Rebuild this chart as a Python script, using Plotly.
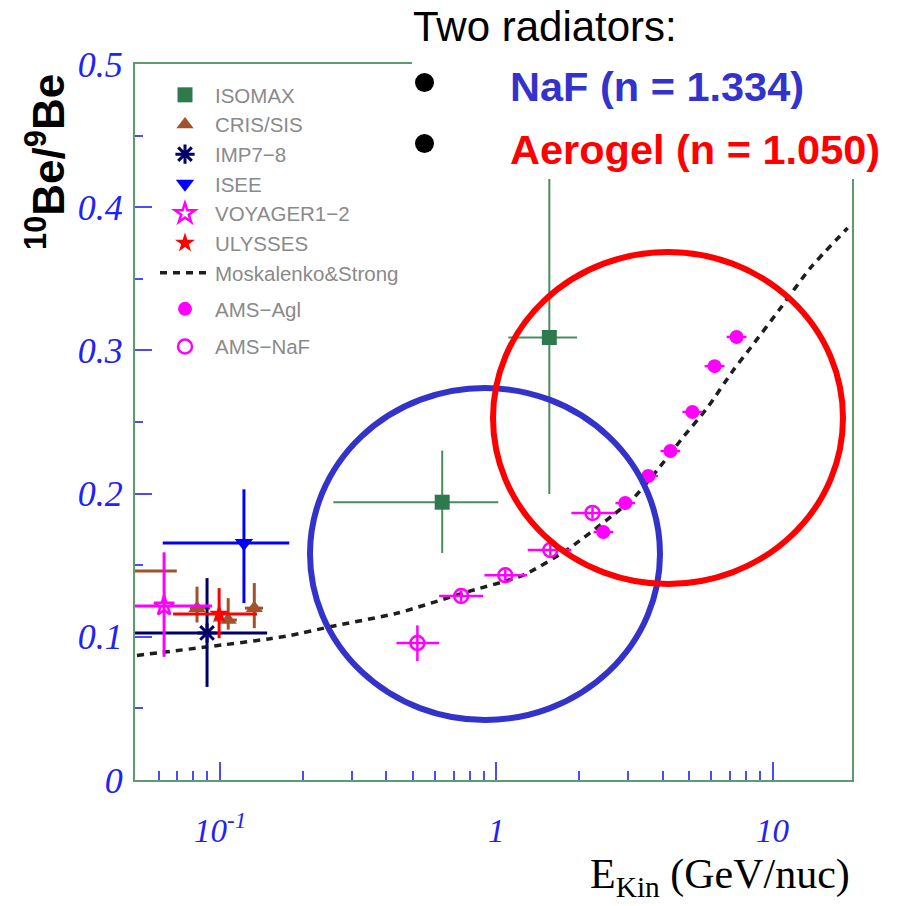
import math
import plotly.graph_objects as go

# ---- measured 10Be/9Be ratios (x = kinetic energy per nucleon, GeV/nuc) ----
isomax_x = [0.637, 1.556]
isomax_y = [0.194, 0.309]
isomax_xlo = [0.257, 1.105]
isomax_xhi = [1.017, 1.96]
isomax_ylo = [0.1585, 0.1997]
isomax_yhi = [0.230, 0.43]

cris_x = [0.045, 0.0825, 0.107, 0.133]
cris_y = [0.146, 0.120, 0.1117, 0.120]
cris_xlo = [0.030, 0.0778, 0.096, 0.123]
cris_xhi = [0.0697, 0.092, 0.115, 0.143]
cris_ylo = [0.140, 0.110, 0.105, 0.106]
cris_yhi = [0.152, 0.135, 0.127, 0.1375]

imp_x = [0.0897]
imp_y = [0.1027]
imp_xlo = [0.040]
imp_xhi = [0.148]
imp_ylo = [0.065]
imp_yhi = [0.141]

isee_x = [0.122]
isee_y = [0.1655]
isee_xlo = [0.062]
isee_xhi = [0.178]
isee_ylo = [0.1236]
isee_yhi = [0.203]

voyager_x = [0.0627]
voyager_y = [0.1215]
voyager_xlo = [0.040]
voyager_xhi = [0.0935]
voyager_ylo = [0.086]
voyager_yhi = [0.159]

ulysses_x = [0.0992]
ulysses_y = [0.116]
ulysses_xlo = [0.0676]
ulysses_xhi = [0.136]
ulysses_ylo = [0.099]
ulysses_yhi = [0.134]

agl_x = [2.44, 2.93, 3.55, 4.27, 5.13, 6.17, 7.41]
agl_y = [0.1732, 0.1934, 0.2123, 0.2297, 0.257, 0.289, 0.3094]
agl_xlo = [2.25, 2.70, 3.27, 3.93, 4.72, 5.68, 6.82]
agl_xhi = [2.65, 3.18, 3.85, 4.63, 5.57, 6.70, 8.05]
agl_ylo = [0.169, 0.189, 0.208, 0.2257, 0.253, 0.285, 0.3054]
agl_yhi = [0.177, 0.197, 0.216, 0.2337, 0.261, 0.293, 0.3134]

naf_x = [0.518, 0.746, 1.078, 1.569, 2.23]
naf_y = [0.0957, 0.1285, 0.143, 0.1606, 0.1865]
naf_xlo = [0.435, 0.621, 0.906, 1.30, 1.87]
naf_xhi = [0.621, 0.897, 1.294, 1.87, 2.70]
naf_ylo = [0.083, 0.1245, 0.139, 0.1566, 0.1825]
naf_yhi = [0.108, 0.1325, 0.147, 0.1646, 0.1905]

# ---- propagation model prediction ----
model_x = [0.05, 0.09, 0.15, 0.18, 0.25, 0.44, 0.76, 1.25, 1.8, 2.65, 3.14,
           3.83, 4.72, 5.81, 7.22, 8.32, 10.7, 13.7, 18.7]
model_y = [0.087, 0.093, 0.0985, 0.101, 0.107, 0.1166, 0.1306, 0.143, 0.1606,
           0.1851, 0.1969, 0.2165, 0.2388, 0.260, 0.2863, 0.3017, 0.3296,
           0.3575, 0.3855]

# ---- axis ticks ----
x_major = [0.1, 1, 10]
x_major_text = ["10<sup>-1</sup>", "1", "10"]
x_minor = [0.06, 0.07, 0.08, 0.09, 0.2, 0.3, 0.4, 0.5, 0.6, 0.7, 0.8, 0.9,
           2, 3, 4, 5, 6, 7, 8, 9]
y_major = [0, 0.1, 0.2, 0.3, 0.4, 0.5]
y_major_text = ["0", "0.1", "0.2", "0.3", "0.4", "0.5"]
y_minor = [0.05, 0.15, 0.25, 0.35, 0.45]

W, H = 899, 906
L, R, T, B = 135, 47, 64, 126
PW, PH = W - L - R, H - T - B


def px(xp):
    return (xp - L) / PW


def py(yp):
    return (H - B - yp) / PH


def errs(v, lo, hi):
    return [h - a for a, h in zip(v, hi)], [a - l for a, l in zip(v, lo)]


def add_points(fig, name, x, y, xlo, xhi, ylo, yhi, color, symbol, size,
               barcolor=None, thick=2.5, line=None, legend="legend", rank=1,
               group=None):
    xp, xm = errs(x, xlo, xhi)
    yp_, ym = errs(y, ylo, yhi)
    bc = barcolor or color
    fig.add_trace(go.Scatter(
        x=x, y=y, mode="markers", name=name, legend=legend, legendrank=rank,
        legendgroup=group or name,
        marker=dict(symbol=symbol, size=size, color=color,
                    line=line or dict(width=0, color=color)),
        error_x=dict(type="data", array=xp, arrayminus=xm, color=bc,
                     thickness=thick, width=0),
        error_y=dict(type="data", array=yp_, arrayminus=ym, color=bc,
                     thickness=thick, width=0),
    ))


fig = go.Figure()

fig.add_trace(go.Scatter(
    x=model_x, y=model_y, mode="lines", name="Moskalenko&Strong",
    legendrank=7,
    line=dict(color="#1e1e1e", width=3.5, dash="7px,6px", shape="spline",
              smoothing=0.6),
))

add_points(fig, "ISOMAX", isomax_x, isomax_y, isomax_xlo, isomax_xhi,
           isomax_ylo, isomax_yhi, "#2f7a4c", "square", 15,
           barcolor="#4a8c60", thick=2, rank=1)
add_points(fig, "CRIS/SIS", cris_x, cris_y, cris_xlo, cris_xhi, cris_ylo,
           cris_yhi, "#a0522d", "triangle-up", 15, thick=3, rank=2)
add_points(fig, "IMP7\u22128", imp_x, imp_y, imp_xlo, imp_xhi, imp_ylo,
           imp_yhi, "#000066", "asterisk-open", 16, thick=3, rank=3,
           line=dict(width=3, color="#000066"))
add_points(fig, "ISEE", isee_x, isee_y, isee_xlo, isee_xhi, isee_ylo,
           isee_yhi, "#0000ff", "triangle-down", 16, thick=3, rank=4)
add_points(fig, "VOYAGER1\u22122", voyager_x, voyager_y, voyager_xlo,
           voyager_xhi, voyager_ylo, voyager_yhi, "#ff00ff", "star-open", 15,
           thick=3, rank=5, line=dict(width=2.5, color="#ff00ff"))
add_points(fig, "ULYSSES", ulysses_x, ulysses_y, ulysses_xlo, ulysses_xhi,
           ulysses_ylo, ulysses_yhi, "#ff0000", "star", 15, thick=3, rank=6)
add_points(fig, "AMS\u2212Agl", agl_x, agl_y, agl_xlo, agl_xhi, agl_ylo,
           agl_yhi, "#ff00ff", "circle", 14, thick=2.5, legend="legend2",
           rank=1, group="agl")
add_points(fig, "AMS\u2212NaF", naf_x, naf_y, naf_xlo, naf_xhi, naf_ylo,
           naf_yhi, "#ff00ff", "circle-open", 14, thick=2.5, legend="legend2",
           rank=2, group="naf", line=dict(width=2.5, color="#ff00ff"))

green = "#5e9c6f"
tickblue = "#4a4aff"
labblue = "#2222f2"
xtickfont = dict(family="Liberation Serif", size=33, color=labblue,
                 style="italic")
ytickfont = dict(family="Liberation Serif", size=36, color=labblue,
                 style="italic")
legfont = dict(family="Liberation Sans", size=20.5, color="#8a8a8a")

fig.update_xaxes(
    type="log", range=[math.log10(0.0492), math.log10(19.4)],
    showline=True, linecolor=green, linewidth=2, mirror=True,
    showgrid=False, zeroline=False,
    tickmode="array", tickvals=x_major, ticktext=x_major_text,
    ticks="inside", ticklen=18, tickwidth=1.5, tickcolor=tickblue,
    tickfont=xtickfont, ticklabelstandoff=20,
    minor=dict(tickmode="array", tickvals=x_minor, ticks="inside",
               ticklen=9, tickwidth=1.5, tickcolor=tickblue, showgrid=False),
)
fig.update_yaxes(
    range=[0, 0.5],
    showline=True, linecolor=green, linewidth=2, mirror=True,
    showgrid=False, zeroline=False,
    tickmode="array", tickvals=y_major, ticktext=y_major_text,
    ticks="inside", ticklen=17, tickwidth=1.5, tickcolor=tickblue,
    tickfont=ytickfont, ticklabelstandoff=3,
    minor=dict(tickmode="array", tickvals=y_minor, ticks="inside",
               ticklen=8, tickwidth=1.5, tickcolor=tickblue, showgrid=False),
)

shapes = [
    # white panel holding the radiator notes
    dict(type="rect", xref="paper", yref="paper", x0=px(412), x1=px(905),
         y0=py(179), y1=py(38), fillcolor="white", line=dict(width=0),
         layer="above"),
    # NaF and aerogel ranges
    dict(type="circle", xref="paper", yref="paper", x0=px(310), x1=px(660),
         y0=py(720), y1=py(388), line=dict(color="#3333cc", width=6),
         layer="above"),
    dict(type="circle", xref="paper", yref="paper", x0=px(493), x1=px(843),
         y0=py(584), y1=py(252), line=dict(color="#ff0000", width=6),
         layer="above"),
    # bullets
    dict(type="circle", xref="paper", yref="paper", x0=px(415), x1=px(434),
         y0=py(92), y1=py(73), fillcolor="black", line=dict(width=0),
         layer="above"),
    dict(type="circle", xref="paper", yref="paper", x0=px(415), x1=px(434),
         y0=py(153), y1=py(134), fillcolor="black", line=dict(width=0),
         layer="above"),
]

annotations = [
    dict(text="Two radiators:", xref="paper", yref="paper", x=px(411),
         y=py(27), xanchor="left", yanchor="middle", showarrow=False,
         font=dict(family="Liberation Sans", size=42, color="black")),
    dict(text="<b>NaF (n = 1.334)</b>", xref="paper", yref="paper",
         x=px(508), y=py(87), xanchor="left", yanchor="middle",
         showarrow=False,
         font=dict(family="Liberation Sans", size=41.5, color="#3333cc")),
    dict(text="<b>Aerogel (n = 1.050)</b>", xref="paper", yref="paper",
         x=px(508), y=py(150), xanchor="left", yanchor="middle",
         showarrow=False,
         font=dict(family="Liberation Sans", size=41.5, color="#ff0000")),
    dict(text="<b><sup>10</sup>Be/<sup>9</sup>Be</b>", xref="paper",
         yref="paper", x=px(45), y=py(162), xanchor="center",
         yanchor="middle", textangle=-90, showarrow=False,
         font=dict(family="Liberation Sans", size=44, color="black")),
    dict(text="E<sub>Kin</sub> (GeV/nuc)", xref="paper", yref="paper",
         x=px(852), y=py(877), xanchor="right", yanchor="middle",
         showarrow=False,
         font=dict(family="Liberation Serif", size=42, color="black")),
]

fig.update_layout(
    width=W, height=H, margin=dict(l=L, r=R, t=T, b=B),
    paper_bgcolor="white", plot_bgcolor="white",
    shapes=shapes, annotations=annotations,
    showlegend=True,
    legend=dict(x=px(155), y=py(75), xanchor="left", yanchor="top",
                bgcolor="rgba(0,0,0,0)", borderwidth=0, font=legfont,
                itemwidth=50, traceorder="normal"),
    legend2=dict(x=px(155), y=py(289), xanchor="left", yanchor="top",
                 bgcolor="rgba(0,0,0,0)", borderwidth=0, font=legfont,
                 itemwidth=50, traceorder="grouped", tracegroupgap=8),
)

fig.write_html("out.html")
